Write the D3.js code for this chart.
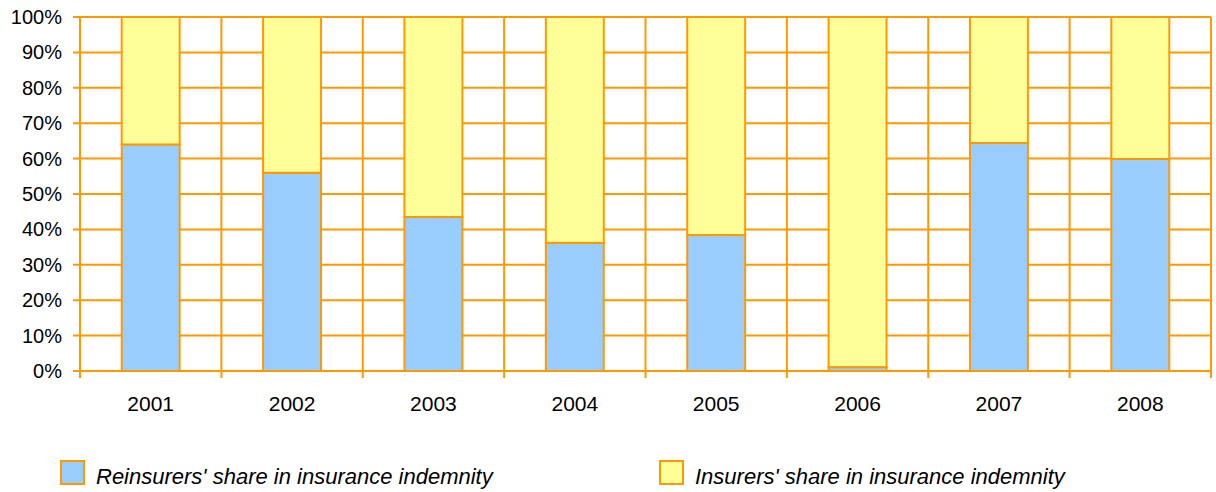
<!DOCTYPE html>
<html>
<head>
<meta charset="utf-8">
<script src="https://cdn.jsdelivr.net/npm/d3@7"></script>
<style>
  body { margin: 0; background: #fff; }
  text { font-family: "Liberation Sans", Arial, sans-serif; fill: #000; }
</style>
</head>
<body>
<svg></svg>
<script>
var years = ['2001', '2002', '2003', '2004', '2005', '2006', '2007', '2008'];
var reinsurers = [64, 56, 43.5, 36.2, 38.4, 1.1, 64.4, 59.9];
var insurers = [36, 44, 56.5, 63.8, 61.6, 98.9, 35.6, 40.1];
var yTicks = [0, 10, 20, 30, 40, 50, 60, 70, 80, 90, 100];
var seriesNames = ["Reinsurers' share in insurance indemnity", "Insurers' share in insurance indemnity"];

var orange = '#FF9900';
var colors = ['#99CCFF', '#FFFF99'];

var W = 1216, H = 492;
var plotL = 80, plotR = 1211, plotT = 17, plotB = 371;

var svg = d3.select('svg')
    .attr('width', W)
    .attr('height', H);

var x = d3.scaleBand().domain(years).range([plotL, plotR]).paddingInner(0).paddingOuter(0);
var y = d3.scaleLinear().domain([0, 100]).range([plotB, plotT]);

// horizontal grid
svg.append('g')
    .selectAll('line')
    .data(yTicks)
    .enter().append('line')
    .attr('x1', plotL - 7)
    .attr('x2', plotR)
    .attr('y1', d => y(d))
    .attr('y2', d => y(d))
    .attr('stroke', orange)
    .attr('stroke-width', 2);

// vertical grid at category boundaries
var bounds = years.map(d => x(d)).concat([plotR]);
svg.append('g')
    .selectAll('line')
    .data(bounds)
    .enter().append('line')
    .attr('x1', d => d)
    .attr('x2', d => d)
    .attr('y1', plotT)
    .attr('y2', plotB + 7)
    .attr('stroke', orange)
    .attr('stroke-width', 2);

// stacked bars
var stack = d3.stack().keys([0, 1]).value((d, k) => d[k]);
var rows = years.map((yr, i) => [reinsurers[i], insurers[i]]);
var layers = stack(rows);

var bw = x.bandwidth() * 0.41;
layers.forEach(function(layer, k) {
    svg.append('g')
        .selectAll('rect')
        .data(layer)
        .enter().append('rect')
        .attr('x', (d, i) => x(years[i]) + (x.bandwidth() - bw) / 2)
        .attr('y', d => y(d[1]))
        .attr('width', bw)
        .attr('height', d => y(d[0]) - y(d[1]))
        .attr('fill', colors[k])
        .attr('stroke', orange)
        .attr('stroke-width', 2);
});

// y labels
svg.append('g')
    .selectAll('text')
    .data(yTicks)
    .enter().append('text')
    .attr('x', 62)
    .attr('y', d => y(d) + 7)
    .attr('text-anchor', 'end')
    .attr('font-size', 20)
    .text(d => d + '%');

// x labels
svg.append('g')
    .selectAll('text')
    .data(years)
    .enter().append('text')
    .attr('x', d => x(d) + x.bandwidth() / 2)
    .attr('y', 411)
    .attr('text-anchor', 'middle')
    .attr('font-size', 21)
    .text(d => d);

// legend
var legendX = [61, 660];
var lg = svg.append('g')
    .selectAll('g')
    .data(seriesNames)
    .enter().append('g')
    .attr('transform', (d, i) => 'translate(' + legendX[i] + ',461)');
lg.append('rect')
    .attr('x', 0)
    .attr('y', 0)
    .attr('width', 23)
    .attr('height', 23)
    .attr('fill', (d, i) => colors[i])
    .attr('stroke', orange)
    .attr('stroke-width', 2);
lg.append('text')
    .attr('x', 35)
    .attr('y', 23)
    .attr('font-size', 22)
    .attr('font-style', 'italic')
    .text(d => d);
</script>
</body>
</html>
